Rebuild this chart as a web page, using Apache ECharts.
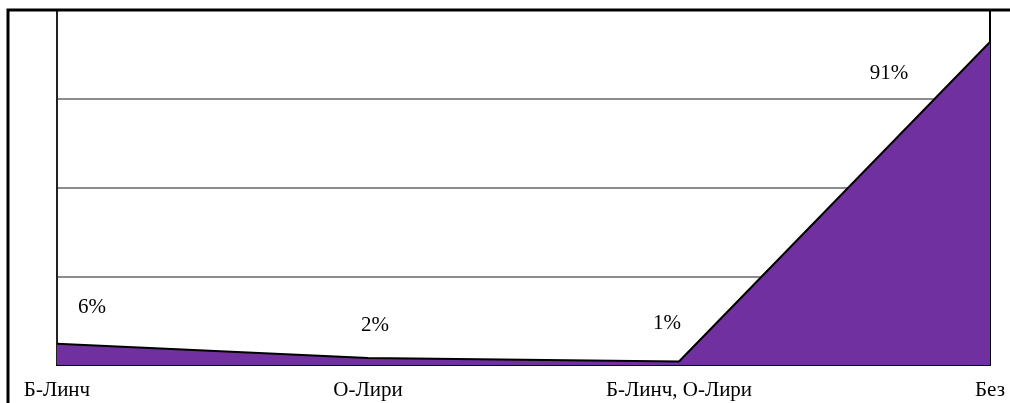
<!DOCTYPE html>
<html>
<head>
<meta charset="utf-8">
<script src="https://cdn.jsdelivr.net/npm/echarts@6/dist/echarts.min.js"></script>
<style>
  html, body { margin: 0; padding: 0; background: #fff; }
  #chart { width: 1010px; height: 403px; }
</style>
</head>
<body>
<div id="chart"></div>
<script>
// Categories along the x axis
const categories = ['Б-Линч', 'О-Лири', 'Б-Линч, О-Лири', 'Без'];
// Share of cases, percent
const shares = [6, 2, 1, 91];
// Value axis range and gridline step
const yMax = 100;
const yStep = 25;

// Offsets of each value label from its point, in pixels
const labelShift = [[35, -36], [7, -32], [-12, -38], [-101, 32]];

const chart = echarts.init(document.getElementById('chart'), null, { renderer: 'canvas' });

const font = '"Liberation Serif", "Times New Roman", serif';

chart.setOption({
  animation: false,
  backgroundColor: '#fff',
  graphic: [{
    type: 'rect',
    shape: { x: 8, y: 10, width: 1100, height: 500 },
    style: { fill: 'none', stroke: '#000', lineWidth: 3 },
    z: 100
  }],
  grid: {
    left: 57, right: 20, top: 10, bottom: 38,
    show: true, borderColor: '#000', borderWidth: 2, backgroundColor: 'transparent'
  },
  xAxis: {
    type: 'category',
    data: categories,
    boundaryGap: false,
    axisLine: { show: true, lineStyle: { color: '#000', width: 2 } },
    axisTick: { show: false },
    axisLabel: { color: '#000', fontFamily: font, fontSize: 21, margin: 15 }
  },
  yAxis: {
    type: 'value',
    min: 0, max: yMax, interval: yStep,
    axisLine: { show: true, lineStyle: { color: '#222', width: 2 } },
    axisTick: { show: false },
    axisLabel: { show: false },
    splitLine: { show: true, lineStyle: { color: '#8c8c8c', width: 2 } }
  },
  series: [{
    type: 'line',
    data: shares.map((v, i) => ({
      value: v,
      label: { offset: labelShift[i] }
    })),
    symbol: 'circle',
    symbolSize: 0,
    lineStyle: { color: '#000', width: 2 },
    areaStyle: { color: '#7030A0', opacity: 1 },
    label: {
      show: true,
      position: 'inside',
      formatter: p => p.value + '%',
      color: '#000',
      fontFamily: font,
      fontSize: 21
    },
    z: 3
  }]
});
</script>
</body>
</html>
